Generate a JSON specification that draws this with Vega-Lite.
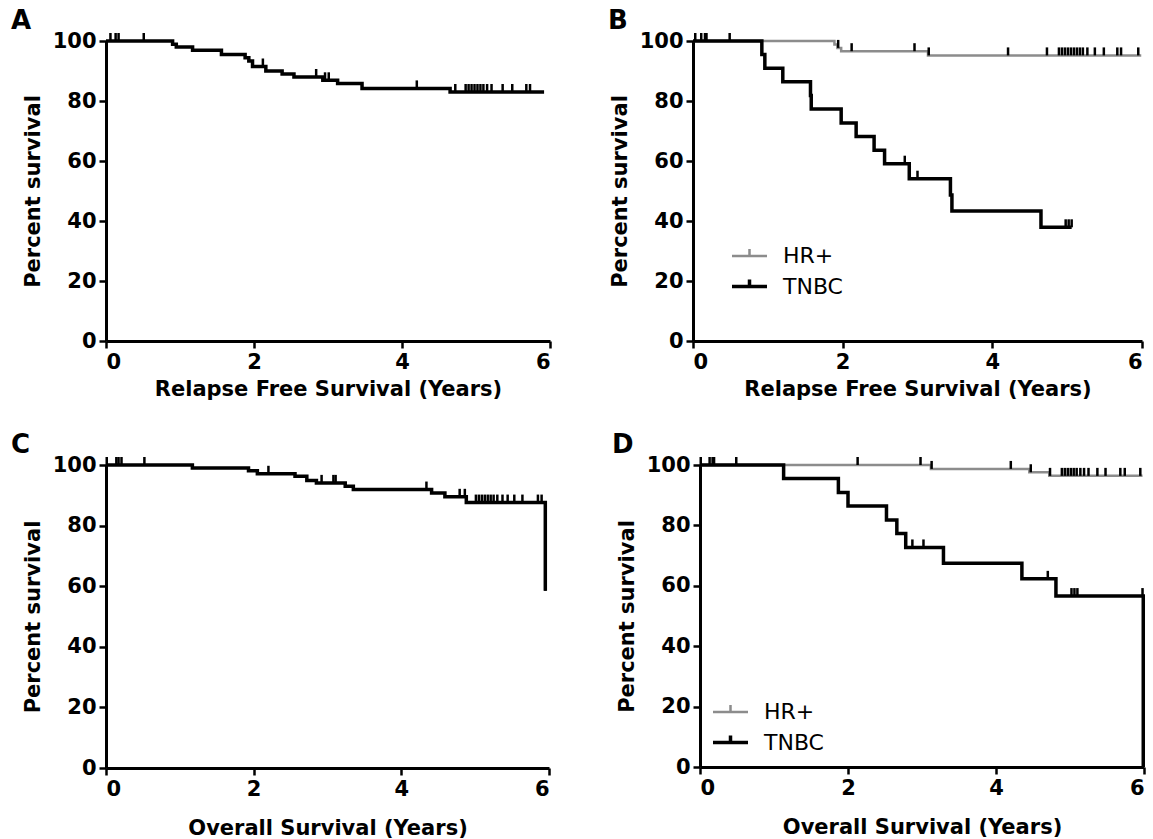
{
  "$schema": "https://vega.github.io/schema/vega-lite/v6.json",
  "background": "white",
  "padding": {"left": 11, "top": 8, "right": 4, "bottom": 4},
  "config": {
    "view": {"stroke": null},
    "axis": {
      "grid": false,
      "domainColor": "black", "domainWidth": 3,
      "tickColor": "black", "tickWidth": 2.5, "tickSize": 7,
      "labelFont": "DejaVu Sans", "labelFontWeight": "bold", "labelFontSize": 21, "labelColor": "black", "labelPadding": 3,
      "titleFont": "DejaVu Sans", "titleFontWeight": "bold", "titleFontSize": 21, "titleColor": "black"
    },
    "axisX": {"titlePadding": 6},
    "axisY": {"titlePadding": 9},
    "title": {"font": "DejaVu Sans", "fontSize": 26, "fontWeight": "bold", "color": "black", "anchor": "start", "frame": "group", "offset": 0, "dy": 8},
    "legend": {
      "labelFont": "DejaVu Sans", "labelFontSize": 22, "labelColor": "black",
      "symbolType": "M-1,0H1M0,0.05V-0.4", "symbolSize": 1225, "symbolStrokeWidth": 3,
      "rowPadding": -1, "labelOffset": 14
    }
  },
  "datasets": {
    "curves": [
      {"panel": "A", "group": "All", "t": 0, "s": 100},
      {"panel": "A", "group": "All", "t": 0.90, "s": 98.9},
      {"panel": "A", "group": "All", "t": 0.95, "s": 98.0},
      {"panel": "A", "group": "All", "t": 1.17, "s": 96.9},
      {"panel": "A", "group": "All", "t": 1.56, "s": 95.5},
      {"panel": "A", "group": "All", "t": 1.88, "s": 94.4},
      {"panel": "A", "group": "All", "t": 1.93, "s": 93.3},
      {"panel": "A", "group": "All", "t": 1.98, "s": 91.5},
      {"panel": "A", "group": "All", "t": 2.16, "s": 90.0},
      {"panel": "A", "group": "All", "t": 2.38, "s": 89.0},
      {"panel": "A", "group": "All", "t": 2.54, "s": 88.0},
      {"panel": "A", "group": "All", "t": 2.93, "s": 86.9},
      {"panel": "A", "group": "All", "t": 3.13, "s": 85.8},
      {"panel": "A", "group": "All", "t": 3.46, "s": 84.2},
      {"panel": "A", "group": "All", "t": 4.65, "s": 83.0},
      {"panel": "A", "group": "All", "t": 5.92, "s": 83.0},

      {"panel": "B", "group": "HR+", "t": 0, "s": 100},
      {"panel": "B", "group": "HR+", "t": 1.89, "s": 98.8},
      {"panel": "B", "group": "HR+", "t": 1.93, "s": 97.7},
      {"panel": "B", "group": "HR+", "t": 1.98, "s": 96.6},
      {"panel": "B", "group": "HR+", "t": 3.14, "s": 95.2},
      {"panel": "B", "group": "HR+", "t": 5.99, "s": 95.2},
      {"panel": "B", "group": "TNBC", "t": 0, "s": 100},
      {"panel": "B", "group": "TNBC", "t": 0.92, "s": 95.5},
      {"panel": "B", "group": "TNBC", "t": 0.96, "s": 90.9},
      {"panel": "B", "group": "TNBC", "t": 1.20, "s": 86.4},
      {"panel": "B", "group": "TNBC", "t": 1.57, "s": 81.8},
      {"panel": "B", "group": "TNBC", "t": 1.58, "s": 77.3},
      {"panel": "B", "group": "TNBC", "t": 1.98, "s": 72.7},
      {"panel": "B", "group": "TNBC", "t": 2.18, "s": 68.2},
      {"panel": "B", "group": "TNBC", "t": 2.42, "s": 63.6},
      {"panel": "B", "group": "TNBC", "t": 2.56, "s": 59.1},
      {"panel": "B", "group": "TNBC", "t": 2.89, "s": 54.1},
      {"panel": "B", "group": "TNBC", "t": 3.44, "s": 48.7},
      {"panel": "B", "group": "TNBC", "t": 3.46, "s": 43.3},
      {"panel": "B", "group": "TNBC", "t": 4.65, "s": 37.9},
      {"panel": "B", "group": "TNBC", "t": 5.06, "s": 37.9},

      {"panel": "C", "group": "All", "t": 0, "s": 100},
      {"panel": "C", "group": "All", "t": 1.17, "s": 99.0},
      {"panel": "C", "group": "All", "t": 1.93, "s": 98.1},
      {"panel": "C", "group": "All", "t": 2.05, "s": 97.1},
      {"panel": "C", "group": "All", "t": 2.56, "s": 96.3},
      {"panel": "C", "group": "All", "t": 2.72, "s": 94.9},
      {"panel": "C", "group": "All", "t": 2.85, "s": 94.1},
      {"panel": "C", "group": "All", "t": 3.24, "s": 93.0},
      {"panel": "C", "group": "All", "t": 3.35, "s": 91.9},
      {"panel": "C", "group": "All", "t": 4.41, "s": 90.8},
      {"panel": "C", "group": "All", "t": 4.59, "s": 89.5},
      {"panel": "C", "group": "All", "t": 4.88, "s": 87.6},
      {"panel": "C", "group": "All", "t": 5.95, "s": 58.5},

      {"panel": "D", "group": "HR+", "t": 0, "s": 100},
      {"panel": "D", "group": "HR+", "t": 3.12, "s": 98.7},
      {"panel": "D", "group": "HR+", "t": 4.45, "s": 97.6},
      {"panel": "D", "group": "HR+", "t": 4.72, "s": 96.4},
      {"panel": "D", "group": "HR+", "t": 5.98, "s": 96.4},
      {"panel": "D", "group": "TNBC", "t": 0, "s": 100},
      {"panel": "D", "group": "TNBC", "t": 1.13, "s": 95.5},
      {"panel": "D", "group": "TNBC", "t": 1.87, "s": 90.9},
      {"panel": "D", "group": "TNBC", "t": 2.00, "s": 86.4},
      {"panel": "D", "group": "TNBC", "t": 2.52, "s": 81.8},
      {"panel": "D", "group": "TNBC", "t": 2.66, "s": 77.3},
      {"panel": "D", "group": "TNBC", "t": 2.78, "s": 72.7},
      {"panel": "D", "group": "TNBC", "t": 3.29, "s": 67.5},
      {"panel": "D", "group": "TNBC", "t": 4.35, "s": 62.3},
      {"panel": "D", "group": "TNBC", "t": 4.81, "s": 56.6},
      {"panel": "D", "group": "TNBC", "t": 5.99, "s": 0}
    ],
    "censors": [
      {"panel": "A", "group": "All", "t": 0.06, "s": 100},
      {"panel": "A", "group": "All", "t": 0.13, "s": 100},
      {"panel": "A", "group": "All", "t": 0.17, "s": 100},
      {"panel": "A", "group": "All", "t": 0.51, "s": 100},
      {"panel": "A", "group": "All", "t": 2.12, "s": 91.5},
      {"panel": "A", "group": "All", "t": 2.84, "s": 88.0},
      {"panel": "A", "group": "All", "t": 2.96, "s": 86.9},
      {"panel": "A", "group": "All", "t": 3.01, "s": 86.9},
      {"panel": "A", "group": "All", "t": 4.20, "s": 84.2},
      {"panel": "A", "group": "All", "t": 4.72, "s": 83.0},
      {"panel": "A", "group": "All", "t": 4.86, "s": 83.0},
      {"panel": "A", "group": "All", "t": 4.90, "s": 83.0},
      {"panel": "A", "group": "All", "t": 4.94, "s": 83.0},
      {"panel": "A", "group": "All", "t": 4.98, "s": 83.0},
      {"panel": "A", "group": "All", "t": 5.02, "s": 83.0},
      {"panel": "A", "group": "All", "t": 5.06, "s": 83.0},
      {"panel": "A", "group": "All", "t": 5.10, "s": 83.0},
      {"panel": "A", "group": "All", "t": 5.15, "s": 83.0},
      {"panel": "A", "group": "All", "t": 5.21, "s": 83.0},
      {"panel": "A", "group": "All", "t": 5.36, "s": 83.0},
      {"panel": "A", "group": "All", "t": 5.49, "s": 83.0},
      {"panel": "A", "group": "All", "t": 5.68, "s": 83.0},
      {"panel": "A", "group": "All", "t": 5.73, "s": 83.0},

      {"panel": "B", "group": "HR+", "t": 0.03, "s": 100},
      {"panel": "B", "group": "HR+", "t": 0.11, "s": 100},
      {"panel": "B", "group": "HR+", "t": 0.16, "s": 100},
      {"panel": "B", "group": "HR+", "t": 0.18, "s": 100},
      {"panel": "B", "group": "HR+", "t": 0.49, "s": 100},
      {"panel": "B", "group": "HR+", "t": 1.94, "s": 97.7},
      {"panel": "B", "group": "HR+", "t": 2.12, "s": 96.6},
      {"panel": "B", "group": "HR+", "t": 2.96, "s": 96.6},
      {"panel": "B", "group": "HR+", "t": 3.15, "s": 95.2},
      {"panel": "B", "group": "HR+", "t": 4.21, "s": 95.2},
      {"panel": "B", "group": "HR+", "t": 4.73, "s": 95.2},
      {"panel": "B", "group": "HR+", "t": 4.89, "s": 95.2},
      {"panel": "B", "group": "HR+", "t": 4.93, "s": 95.2},
      {"panel": "B", "group": "HR+", "t": 4.97, "s": 95.2},
      {"panel": "B", "group": "HR+", "t": 5.01, "s": 95.2},
      {"panel": "B", "group": "HR+", "t": 5.05, "s": 95.2},
      {"panel": "B", "group": "HR+", "t": 5.09, "s": 95.2},
      {"panel": "B", "group": "HR+", "t": 5.13, "s": 95.2},
      {"panel": "B", "group": "HR+", "t": 5.17, "s": 95.2},
      {"panel": "B", "group": "HR+", "t": 5.21, "s": 95.2},
      {"panel": "B", "group": "HR+", "t": 5.27, "s": 95.2},
      {"panel": "B", "group": "HR+", "t": 5.37, "s": 95.2},
      {"panel": "B", "group": "HR+", "t": 5.49, "s": 95.2},
      {"panel": "B", "group": "HR+", "t": 5.67, "s": 95.2},
      {"panel": "B", "group": "HR+", "t": 5.72, "s": 95.2},
      {"panel": "B", "group": "HR+", "t": 5.95, "s": 95.2},
      {"panel": "B", "group": "TNBC", "t": 2.83, "s": 59.1},
      {"panel": "B", "group": "TNBC", "t": 3.00, "s": 54.1},
      {"panel": "B", "group": "TNBC", "t": 4.98, "s": 37.9},
      {"panel": "B", "group": "TNBC", "t": 5.02, "s": 37.9},
      {"panel": "B", "group": "TNBC", "t": 5.06, "s": 37.9},

      {"panel": "C", "group": "All", "t": 0.01, "s": 100},
      {"panel": "C", "group": "All", "t": 0.14, "s": 100},
      {"panel": "C", "group": "All", "t": 0.17, "s": 100},
      {"panel": "C", "group": "All", "t": 0.21, "s": 100},
      {"panel": "C", "group": "All", "t": 0.52, "s": 100},
      {"panel": "C", "group": "All", "t": 2.20, "s": 97.1},
      {"panel": "C", "group": "All", "t": 2.92, "s": 94.1},
      {"panel": "C", "group": "All", "t": 3.08, "s": 94.1},
      {"panel": "C", "group": "All", "t": 3.11, "s": 94.1},
      {"panel": "C", "group": "All", "t": 4.34, "s": 91.9},
      {"panel": "C", "group": "All", "t": 4.79, "s": 89.5},
      {"panel": "C", "group": "All", "t": 4.86, "s": 89.5},
      {"panel": "C", "group": "All", "t": 5.01, "s": 87.6},
      {"panel": "C", "group": "All", "t": 5.05, "s": 87.6},
      {"panel": "C", "group": "All", "t": 5.09, "s": 87.6},
      {"panel": "C", "group": "All", "t": 5.13, "s": 87.6},
      {"panel": "C", "group": "All", "t": 5.17, "s": 87.6},
      {"panel": "C", "group": "All", "t": 5.21, "s": 87.6},
      {"panel": "C", "group": "All", "t": 5.25, "s": 87.6},
      {"panel": "C", "group": "All", "t": 5.30, "s": 87.6},
      {"panel": "C", "group": "All", "t": 5.37, "s": 87.6},
      {"panel": "C", "group": "All", "t": 5.44, "s": 87.6},
      {"panel": "C", "group": "All", "t": 5.53, "s": 87.6},
      {"panel": "C", "group": "All", "t": 5.64, "s": 87.6},
      {"panel": "C", "group": "All", "t": 5.85, "s": 87.6},
      {"panel": "C", "group": "All", "t": 5.90, "s": 87.6},
      {"panel": "C", "group": "All", "t": 5.95, "s": 58.5},

      {"panel": "D", "group": "HR+", "t": 0.01, "s": 100},
      {"panel": "D", "group": "HR+", "t": 0.13, "s": 100},
      {"panel": "D", "group": "HR+", "t": 0.17, "s": 100},
      {"panel": "D", "group": "HR+", "t": 0.19, "s": 100},
      {"panel": "D", "group": "HR+", "t": 0.49, "s": 100},
      {"panel": "D", "group": "HR+", "t": 2.13, "s": 100},
      {"panel": "D", "group": "HR+", "t": 2.98, "s": 100},
      {"panel": "D", "group": "HR+", "t": 3.13, "s": 98.7},
      {"panel": "D", "group": "HR+", "t": 4.20, "s": 98.7},
      {"panel": "D", "group": "HR+", "t": 4.47, "s": 97.6},
      {"panel": "D", "group": "HR+", "t": 4.73, "s": 96.4},
      {"panel": "D", "group": "HR+", "t": 4.89, "s": 96.4},
      {"panel": "D", "group": "HR+", "t": 4.93, "s": 96.4},
      {"panel": "D", "group": "HR+", "t": 4.97, "s": 96.4},
      {"panel": "D", "group": "HR+", "t": 5.01, "s": 96.4},
      {"panel": "D", "group": "HR+", "t": 5.05, "s": 96.4},
      {"panel": "D", "group": "HR+", "t": 5.09, "s": 96.4},
      {"panel": "D", "group": "HR+", "t": 5.14, "s": 96.4},
      {"panel": "D", "group": "HR+", "t": 5.19, "s": 96.4},
      {"panel": "D", "group": "HR+", "t": 5.25, "s": 96.4},
      {"panel": "D", "group": "HR+", "t": 5.37, "s": 96.4},
      {"panel": "D", "group": "HR+", "t": 5.48, "s": 96.4},
      {"panel": "D", "group": "HR+", "t": 5.68, "s": 96.4},
      {"panel": "D", "group": "HR+", "t": 5.74, "s": 96.4},
      {"panel": "D", "group": "HR+", "t": 5.95, "s": 96.4},
      {"panel": "D", "group": "TNBC", "t": 2.87, "s": 72.7},
      {"panel": "D", "group": "TNBC", "t": 3.02, "s": 72.7},
      {"panel": "D", "group": "TNBC", "t": 4.70, "s": 62.3},
      {"panel": "D", "group": "TNBC", "t": 5.02, "s": 56.6},
      {"panel": "D", "group": "TNBC", "t": 5.06, "s": 56.6},
      {"panel": "D", "group": "TNBC", "t": 5.10, "s": 56.6},
      {"panel": "D", "group": "TNBC", "t": 5.98, "s": 56.6}
    ]
  },
  "spacing": 33,
  "resolve": {"scale": {"color": "independent", "strokeWidth": "independent"}, "legend": {"color": "independent"}},
  "vconcat": [
    {
      "spacing": 56,
      "resolve": {"scale": {"color": "independent", "strokeWidth": "independent"}, "legend": {"color": "independent"}},
      "hconcat": [
        {
          "width": 444, "height": 300,
          "title": {"text": "A", "dx": -95},
          "encoding": {
            "x": {"field": "t", "type": "quantitative", "scale": {"domain": [0, 6], "nice": false}, "axis": {"values": [0, 2, 4, 6], "title": "Relapse Free Survival (Years)"}},
            "y": {"field": "s", "type": "quantitative", "scale": {"domain": [0, 100], "nice": false}, "axis": {"values": [0, 20, 40, 60, 80, 100], "title": "Percent survival"}}
          },
          "layer": [
            {"data": {"name": "curves"}, "transform": [{"filter": "datum.panel === 'A'"}], "mark": {"type": "line", "interpolate": "step-after", "color": "#000000", "strokeWidth": 3.5}},
            {"data": {"name": "censors"}, "transform": [{"filter": "datum.panel === 'A'"}], "mark": {"type": "tick", "orient": "vertical", "size": 8, "thickness": 2.5, "yOffset": -4, "color": "#000000", "opacity": 1}}
          ]
        },
        {
          "width": 449, "height": 300,
          "title": {"text": "B", "dx": -85},
          "encoding": {
            "x": {"field": "t", "type": "quantitative", "scale": {"domain": [0, 6], "nice": false}, "axis": {"values": [0, 2, 4, 6], "title": "Relapse Free Survival (Years)"}},
            "y": {"field": "s", "type": "quantitative", "scale": {"domain": [0, 100], "nice": false}, "axis": {"values": [0, 20, 40, 60, 80, 100], "title": "Percent survival"}}
          },
          "layer": [
            {"data": {"name": "curves"}, "transform": [{"filter": "datum.panel === 'B'"}], "mark": {"type": "line", "interpolate": "step-after"},
             "encoding": {
               "color": {"field": "group", "type": "nominal", "scale": {"domain": ["HR+", "TNBC"], "range": ["#8c8c8c", "#000000"]}, "legend": {"orient": "none", "legendX": 37, "legendY": 196, "title": null}},
               "strokeWidth": {"field": "group", "type": "nominal", "scale": {"domain": ["HR+", "TNBC"], "range": [2.5, 3.5]}, "legend": null}
             }},
            {"data": {"name": "censors"}, "transform": [{"filter": "datum.panel === 'B'"}], "mark": {"type": "tick", "orient": "vertical", "size": 8, "thickness": 2.5, "yOffset": -4, "color": "#000000", "opacity": 1}}
          ]
        }
      ]
    },
    {
      "spacing": 59,
      "resolve": {"scale": {"color": "independent", "strokeWidth": "independent"}, "legend": {"color": "independent"}},
      "hconcat": [
        {
          "width": 443, "height": 303,
          "title": {"text": "C", "dx": -95},
          "encoding": {
            "x": {"field": "t", "type": "quantitative", "scale": {"domain": [0, 6], "nice": false}, "axis": {"values": [0, 2, 4, 6], "title": "Overall Survival (Years)", "titlePadding": 18}},
            "y": {"field": "s", "type": "quantitative", "scale": {"domain": [0, 100], "nice": false}, "axis": {"values": [0, 20, 40, 60, 80, 100], "title": "Percent survival"}}
          },
          "layer": [
            {"data": {"name": "curves"}, "transform": [{"filter": "datum.panel === 'C'"}], "mark": {"type": "line", "interpolate": "step-after", "color": "#000000", "strokeWidth": 3.5}},
            {"data": {"name": "censors"}, "transform": [{"filter": "datum.panel === 'C'"}], "mark": {"type": "tick", "orient": "vertical", "size": 8, "thickness": 2.5, "yOffset": -4, "color": "#000000", "opacity": 1}}
          ]
        },
        {
          "width": 444, "height": 302,
          "title": {"text": "D", "dx": -88},
          "encoding": {
            "x": {"field": "t", "type": "quantitative", "scale": {"domain": [0, 6], "nice": false}, "axis": {"values": [0, 2, 4, 6], "title": "Overall Survival (Years)", "titlePadding": 18}},
            "y": {"field": "s", "type": "quantitative", "scale": {"domain": [0, 100], "nice": false}, "axis": {"values": [0, 20, 40, 60, 80, 100], "title": "Percent survival"}}
          },
          "layer": [
            {"data": {"name": "curves"}, "transform": [{"filter": "datum.panel === 'D'"}], "mark": {"type": "line", "interpolate": "step-after"},
             "encoding": {
               "color": {"field": "group", "type": "nominal", "scale": {"domain": ["HR+", "TNBC"], "range": ["#8c8c8c", "#000000"]}, "legend": {"orient": "none", "legendX": 11, "legendY": 228, "title": null}},
               "strokeWidth": {"field": "group", "type": "nominal", "scale": {"domain": ["HR+", "TNBC"], "range": [2.5, 3.5]}, "legend": null}
             }},
            {"data": {"name": "censors"}, "transform": [{"filter": "datum.panel === 'D'"}], "mark": {"type": "tick", "orient": "vertical", "size": 8, "thickness": 2.5, "yOffset": -4, "color": "#000000", "opacity": 1}}
          ]
        }
      ]
    }
  ]
}
